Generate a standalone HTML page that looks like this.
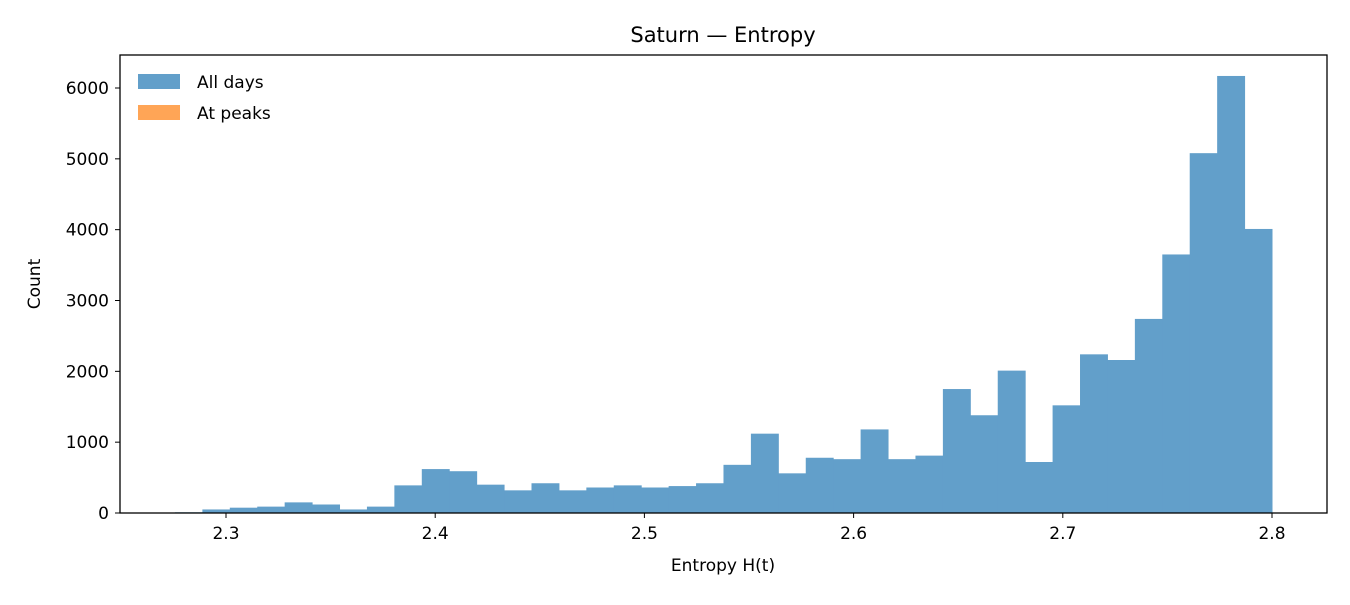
<!DOCTYPE html>
<html><head><meta charset="utf-8"><style>
body{margin:0;background:#fff;font-family:"Liberation Sans","DejaVu Sans",sans-serif;}
svg text{font-family:"DejaVu Sans","Liberation Sans",sans-serif;}
</style></head><body>
<svg id="chart" width="1350" height="600" xmlns="http://www.w3.org/2000/svg">
<rect width="1350" height="600" fill="#fff"/>
<text x="723" y="42" font-size="21" text-anchor="middle">Saturn — Entropy</text>
<g id="bars"></g>
<g id="axes"></g>
<rect x="120" y="55" width="1207" height="458" fill="none" stroke="#000" stroke-width="1.3"/>
<text x="723" y="571" font-size="17" text-anchor="middle">Entropy H(t)</text>
<text x="40" y="284" font-size="17" text-anchor="middle" transform="rotate(-90 40 284)">Count</text>
<g>
<rect x="138" y="74" width="42" height="15" fill="#629fca"/>
<text x="197" y="88" font-size="17">All days</text>
<rect x="138" y="105" width="42" height="15" fill="#ffa556"/>
<text x="197" y="119" font-size="17">At peaks</text>
</g>
</svg>
<script>
const binStart = 2.2756;
const binEnd = 2.8;
const counts = [10,50,75,90,150,120,50,90,390,620,590,400,320,420,320,360,390,360,380,420,680,1120,560,780,760,1180,760,810,1750,1380,2010,720,1520,2240,2160,2740,3650,5080,6170,4010];
const xTicks = [2.3,2.4,2.5,2.6,2.7,2.8];
const yTicks = [0,1000,2000,3000,4000,5000,6000];
const NS="http://www.w3.org/2000/svg";
function xs(v){return 226+(v-2.3)*2092;}
function ys(v){return 513-v*0.070833;}
const bars=document.getElementById('bars'), axes=document.getElementById('axes');
const w=(binEnd-binStart)/counts.length;
counts.forEach((c,i)=>{
  const r=document.createElementNS(NS,'rect');
  const x0=xs(binStart+i*w), x1=xs(binStart+(i+1)*w);
  r.setAttribute('x',x0);r.setAttribute('width',x1-x0+0.5);
  r.setAttribute('y',ys(c));r.setAttribute('height',513-ys(c));
  r.setAttribute('fill','#629fca');
  
  
  bars.appendChild(r);
});
xTicks.forEach(t=>{
  const x=xs(t);
  const l=document.createElementNS(NS,'line');
  l.setAttribute('x1',x);l.setAttribute('x2',x);l.setAttribute('y1',513);l.setAttribute('y2',518);l.setAttribute('stroke','#000');
  
  
  axes.appendChild(l);
  const tx=document.createElementNS(NS,'text');
  tx.setAttribute('x',x);tx.setAttribute('y',539);tx.setAttribute('font-size','17');tx.setAttribute('text-anchor','middle');
  tx.textContent=t.toFixed(1);
  
  
  axes.appendChild(tx);
});
yTicks.forEach(t=>{
  const y=ys(t);
  const l=document.createElementNS(NS,'line');
  l.setAttribute('x1',115);l.setAttribute('x2',120);l.setAttribute('y1',y);l.setAttribute('y2',y);l.setAttribute('stroke','#000');
  
  
  axes.appendChild(l);
  const tx=document.createElementNS(NS,'text');
  tx.setAttribute('x',109);tx.setAttribute('y',y+6);tx.setAttribute('font-size','17');tx.setAttribute('text-anchor','end');
  tx.textContent=t;
  
  
  axes.appendChild(tx);
});
</script>
</body></html>
